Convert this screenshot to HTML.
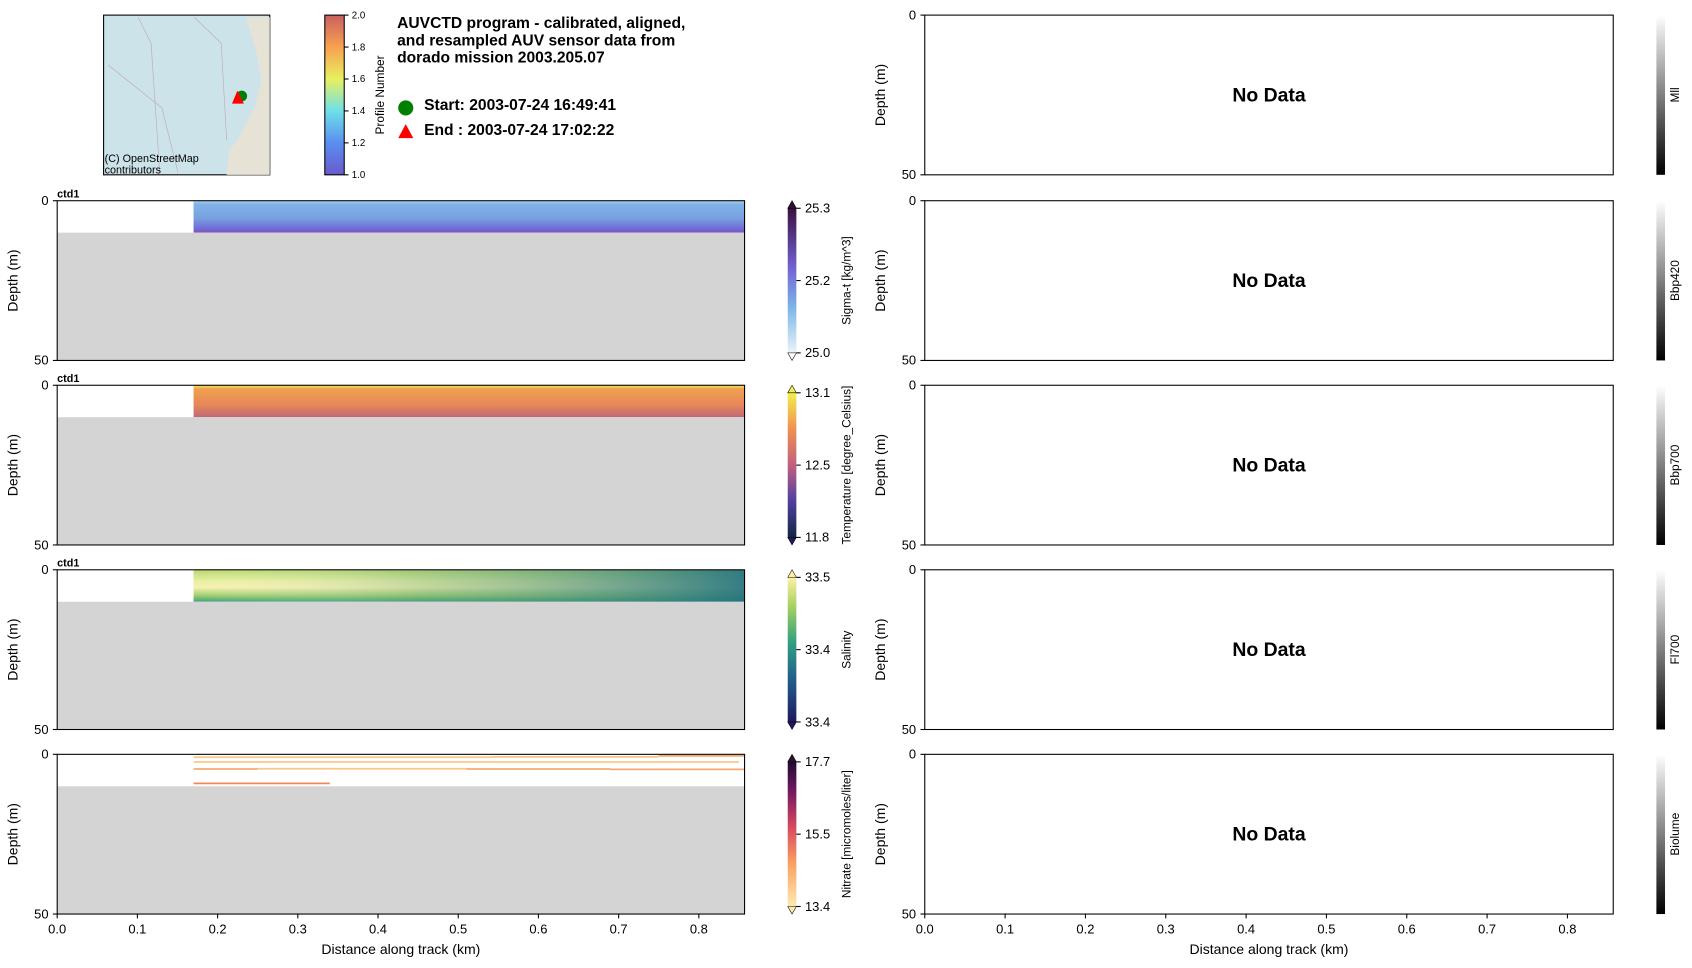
<!DOCTYPE html>
<html><head><meta charset="utf-8"><style>
body{margin:0;background:#fff}
svg{display:block;font-family:"Liberation Sans","DejaVu Sans",sans-serif}
</style></head><body>
<svg id="fig" width="1692" height="968" viewBox="0 0 1568 897" preserveAspectRatio="none" xmlns="http://www.w3.org/2000/svg">
<defs>
<linearGradient id="gProf" x1="0" y1="1" x2="0" y2="0"><stop offset="0" stop-color="#6a5acd"/><stop offset="0.2" stop-color="#5a8ef0"/><stop offset="0.4" stop-color="#6ee0e8"/><stop offset="0.6" stop-color="#e8f060"/><stop offset="0.8" stop-color="#f8a050"/><stop offset="1" stop-color="#c86060"/></linearGradient>
<linearGradient id="gSig" x1="0" y1="1" x2="0" y2="0"><stop offset="0" stop-color="#eaf4f8"/><stop offset="0.3" stop-color="#80b8e8"/><stop offset="0.6" stop-color="#7060d0"/><stop offset="1" stop-color="#3a1040"/></linearGradient>
<linearGradient id="gTmp" x1="0" y1="1" x2="0" y2="0"><stop offset="0" stop-color="#102840"/><stop offset="0.25" stop-color="#5040a0"/><stop offset="0.5" stop-color="#c06080"/><stop offset="0.75" stop-color="#f09050"/><stop offset="1" stop-color="#f0f050"/></linearGradient>
<linearGradient id="gSal" x1="0" y1="1" x2="0" y2="0"><stop offset="0" stop-color="#201860"/><stop offset="0.3" stop-color="#20608a"/><stop offset="0.55" stop-color="#30a080"/><stop offset="0.8" stop-color="#a8d060"/><stop offset="1" stop-color="#fdf0a8"/></linearGradient>
<linearGradient id="gNit" x1="0" y1="1" x2="0" y2="0"><stop offset="0" stop-color="#fdeab0"/><stop offset="0.3" stop-color="#f8a060"/><stop offset="0.55" stop-color="#d84860"/><stop offset="0.8" stop-color="#701860"/><stop offset="1" stop-color="#200c30"/></linearGradient>
<linearGradient id="gGray" x1="0" y1="1" x2="0" y2="0"><stop offset="0" stop-color="#000"/><stop offset="1" stop-color="#fff"/></linearGradient>
<linearGradient id="fSig" x1="0" y1="0" x2="0" y2="1"><stop offset="0" stop-color="#b8d8f0"/><stop offset="0.1" stop-color="#80b4e8"/><stop offset="0.55" stop-color="#78a0e0"/><stop offset="0.85" stop-color="#7070d8"/><stop offset="1" stop-color="#8050c0"/></linearGradient>
<linearGradient id="fTmp" x1="0" y1="0" x2="0" y2="1"><stop offset="0" stop-color="#f0e860"/><stop offset="0.12" stop-color="#f0a050"/><stop offset="0.6" stop-color="#e88858"/><stop offset="1" stop-color="#c06878"/></linearGradient>
<linearGradient id="fSal" x1="0" y1="0" x2="0" y2="1"><stop offset="0" stop-color="#b8d870"/><stop offset="0.35" stop-color="#e8f0a0"/><stop offset="0.55" stop-color="#f8f0b0"/><stop offset="0.8" stop-color="#a0d070"/><stop offset="1" stop-color="#40a078"/></linearGradient>
<linearGradient id="fSalR" x1="0" y1="0" x2="1" y2="0"><stop offset="0" stop-color="#fff" stop-opacity="0"/><stop offset="0.4" stop-color="#60a080" stop-opacity="0.3"/><stop offset="1" stop-color="#207080" stop-opacity="0.9"/></linearGradient>
</defs>
<rect width="1568" height="897" fill="#fff"/>
<g>
<rect x="96" y="14" width="154" height="148" fill="#cde3ea" stroke="#000" stroke-width="1"/>
<path d="M228,16 L250,16 L250,162 L210,162 L212,140 L220,130 L236,100 L242,75 L238,50 Z" fill="#e6e2d6"/>
<path d="M100,60 L150,100 L165,160 M128,16 L140,40 L148,160 M180,16 L205,40 L210,130" stroke="#c0a8c0" stroke-width="0.6" fill="none"/>
<circle cx="224" cy="89" r="5" fill="#008000"/>
<polygon points="220,84 215,96 226,96" fill="#f00"/>
<text x="97" y="150" font-size="10">(C) OpenStreetMap</text>
<text x="97" y="161" font-size="10">contributors</text>
</g>
<g>
<rect x="301" y="14" width="18" height="148" fill="url(#gProf)" stroke="#000"/>
<g font-size="9" id="profTicks"></g>
<text transform="translate(356,88) rotate(-90)" text-anchor="middle" font-size="11">Profile Number</text>
</g>
<g font-weight="bold" font-size="14.5">
<text x="368" y="26">AUVCTD program - calibrated, aligned,</text>
<text x="368" y="42">and resampled AUV sensor data from</text>
<text x="368" y="58">dorado mission 2003.205.07</text>
<circle cx="376" cy="100" r="7" fill="#008000"/>
<text x="393" y="102">Start: 2003-07-24 16:49:41</text>
<polygon points="376,115 369,128 383,128" fill="#f00"/>
<text x="393" y="125">End  : 2003-07-24 17:02:22</text>
</g>
<g id="panels"></g>
</svg>
<script>
const xTicks=[0,0.1,0.2,0.3,0.4,0.5,0.6,0.7,0.8];
const xMax=0.857;
const yTicks=[0,50];
const dataStartKm=0.17;
const bottomDepth=10;
const leftVars=["Sigma-t [kg/m^3]","Temperature [degree_Celsius]","Salinity","Nitrate [micromoles/liter]"];
const leftTicks=[[25.3,25.2,25.0],[13.1,12.5,11.8],[33.5,33.4,33.4],[17.7,15.5,13.4]];
const rightVars=["Mll","Bbp420","Bbp700","Fl700","Biolume"];
const nitrateLines=[[0.17,0.54,0.9],[0.54,0.75,0.8],[0.75,0.857,0.5],[0.17,0.85,2.4],[0.17,0.25,4.6],[0.25,0.51,4.5],[0.51,0.69,4.6],[0.69,0.857,4.7],[0.17,0.34,9.1]];
const nitrateVals=[13.8,14.0,14.4,13.9,14.3,14.1,14.4,14.2,14.8];
const profTicks=[1.0,1.2,1.4,1.6,1.8,2.0];

const NS="http://www.w3.org/2000/svg";
const P=document.getElementById('panels');
function el(t,a,par){const e=document.createElementNS(NS,t);for(const k in a)e.setAttribute(k,a[k]);(par||P).appendChild(e);return e;}
function txt(s,a,par){const e=el('text',a,par);e.textContent=s;return e;}
const pt=document.getElementById('profTicks');
profTicks.forEach(v=>{const y=162-(v-1)*148;el('line',{x1:319,x2:323,y1:y,y2:y,stroke:'#000'},pt);txt(v.toFixed(1),{x:326,y:y+3,'font-size':9},pt);});

const rowsL=[186,357,528,699], H=148;
const rowsR=[14,186,357,528,699];
function axes(x0,w,y0,bottom,g){
  const sx=v=>x0+v/xMax*w, sy=d=>y0+d/50*H;
  yTicks.forEach(t=>{el('line',{x1:x0-4,x2:x0,y1:sy(t),y2:sy(t),stroke:'#000'},g);txt(String(t),{x:x0-8,y:sy(t)+4,'font-size':12,'text-anchor':'end'},g);});
  txt('Depth (m)',{transform:`translate(${x0-37},${y0+H/2}) rotate(-90)`,'text-anchor':'middle','font-size':13},g);
  if(bottom){xTicks.forEach(t=>{el('line',{x1:sx(t),x2:sx(t),y1:y0+H,y2:y0+H+4,stroke:'#000'},g);txt(t.toFixed(1),{x:sx(t),y:y0+H+18,'font-size':12,'text-anchor':'middle'},g);});
    txt('Distance along track (km)',{x:x0+w/2,y:y0+H+37,'font-size':13,'text-anchor':'middle'},g);}
  return {sx,sy};
}
const fills=['fSig','fTmp','fSal',null], grads=['gSig','gTmp','gSal','gNit'];
rowsL.forEach((y0,i)=>{
  const g=el('g',{});
  
  
  const x0=53,w=637;
  const {sx,sy}=axes(x0,w,y0,i===3,g);
  if(fills[i]){el('rect',{x:sx(dataStartKm),y:sy(0),width:sx(xMax)-sx(dataStartKm),height:sy(bottomDepth)-sy(0),fill:'url(#'+fills[i]+')'},g);
    if(i===2)el('rect',{x:sx(dataStartKm),y:sy(0),width:sx(xMax)-sx(dataStartKm),height:sy(bottomDepth)-sy(0),fill:'url(#fSalR)'},g);}
  el('rect',{x:x0,y:sy(bottomDepth),width:w,height:sy(50)-sy(bottomDepth),fill:'#d4d4d4'},g);
  if(!fills[i]) nitrateLines.forEach((l,k)=>{const v=nitrateVals[k];const ln=el('line',{x1:sx(l[0]),x2:sx(l[1]),y1:sy(l[2]),y2:sy(l[2]),stroke:v>14.5?'#f08858':(v>14.1?'#f6a870':'#f8c888'),'stroke-width':1.6},g);});
  el('rect',{x:x0,y:y0,width:w,height:H,fill:'none',stroke:'#000'},g);
  if(i<3)txt('ctd1',{x:x0,y:y0-3,'font-size':10,'font-weight':'bold'},g);
  const cx=730,cy=y0+7,ch=H-14;
  el('rect',{x:cx,y:cy,width:8,height:ch,fill:'url(#'+grads[i]+')'},g);
  el('polygon',{points:`${cx},${cy} ${cx+4},${cy-7} ${cx+8},${cy}`,fill:i==2?'#fdf0a8':(i==1?'#f0f050':'#301030'),stroke:'#000','stroke-width':0.5},g);
  el('polygon',{points:`${cx},${cy+ch} ${cx+4},${cy+ch+7} ${cx+8},${cy+ch}`,fill:i==0?'#fff':(i==3?'#fdeab0':'#201860'),stroke:'#000','stroke-width':0.5},g);
  leftTicks[i].forEach((v,k)=>{const y=cy+k*ch/2;el('line',{x1:cx+8,x2:cx+12,y1:y,y2:y,stroke:'#000'},g);txt(v.toFixed(1),{x:cx+16,y:y+4,'font-size':12},g);});
  txt(leftVars[i],{transform:`translate(${cx+58},${y0+H/2}) rotate(-90)`,'text-anchor':'middle','font-size':11},g);
});
rowsR.forEach((y0,i)=>{
  const g=el('g',{});
  
  
  const x0=857,w=638;
  axes(x0,w,y0,i===4,g);
  el('rect',{x:x0,y:y0,width:w,height:H,fill:'none',stroke:'#000'},g);
  txt('No Data',{x:x0+w/2,y:y0+H/2+6,'font-size':18,'font-weight':'bold','text-anchor':'middle'},g);
  el('rect',{x:1535,y:y0,width:8,height:H,fill:'url(#gGray)'},g);
  txt(rightVars[i],{transform:`translate(1556,${y0+H/2}) rotate(-90)`,'text-anchor':'middle','font-size':11},g);
});
</script>
</body></html>
